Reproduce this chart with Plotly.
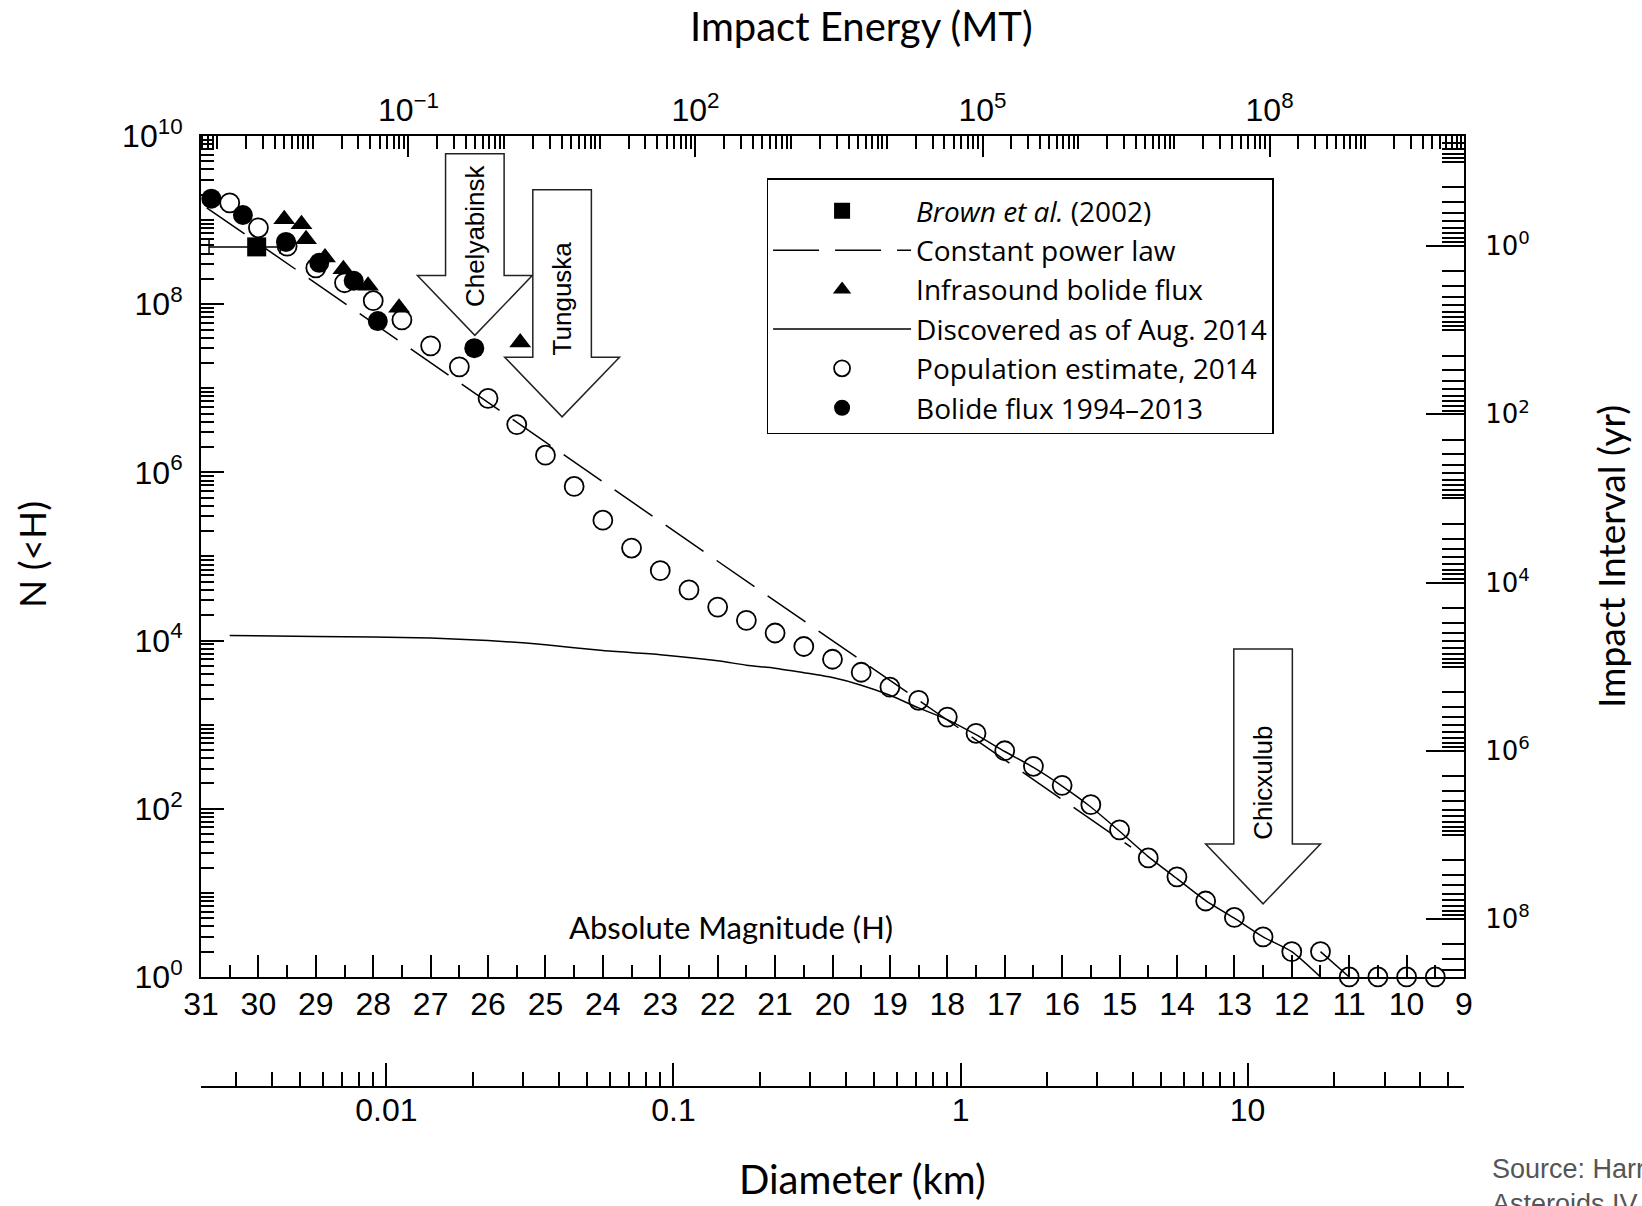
import plotly.graph_objects as go

# ---------------- data ----------------
# Population estimate, 2014 (open circles): absolute magnitude H and cumulative N(<H)
pop_H = [30.5, 30.0, 29.5, 29.0, 28.5, 28.0, 27.5, 27.0, 26.5, 26.0,
         25.5, 25.0, 24.5, 24.0, 23.5, 23.0, 22.5, 22.0, 21.5, 21.0,
         20.5, 20.0, 19.5, 19.0, 18.5, 18.0, 17.5, 17.0, 16.5, 16.0,
         15.5, 15.0, 14.5, 14.0, 13.5, 13.0, 12.5, 12.0, 11.5, 11.0,
         10.5, 10.0, 9.5]
pop_N = [1.6e9, 8.1e8, 4.9e8, 2.7e8, 1.8e8, 1.1e8, 6.5e7, 3.2e7, 1.8e7, 7.6e6,
         3.7e6, 1.6e6, 6.8e5, 2.7e5, 1.26e5, 6.8e4, 4.0e4, 2.5e4, 1.74e4, 1.23e4,
         8.5e3, 6.0e3, 4.2e3, 2.8e3, 1.95e3, 1.23e3, 7.9e2, 4.9e2, 3.2e2, 1.9e2,
         112, 56, 26, 15.5, 8.0, 5.1, 3.0, 2.0, 2.0, 1.0,
         1.0, 1.0, 1.0]

# Bolide flux 1994-2013 (filled circles)
bolide_H = [30.82, 30.27, 29.52, 28.94, 28.34, 27.92, 26.24]
bolide_N = [1.8e9, 1.15e9, 5.5e8, 3.1e8, 1.9e8, 6.3e7, 3.0e7]

# Infrasound bolide flux (triangles)
infra_H = [29.55, 29.25, 29.17, 28.84, 28.52, 28.09, 27.55, 25.44]
infra_N = [1.02e9, 8.9e8, 5.9e8, 3.6e8, 2.6e8, 1.66e8, 9.1e7, 3.5e7]

# Brown et al. (2002) (square with horizontal error bar)
brown_H = [30.03]
brown_N = [4.8e8]
brown_err_plus = [0.83]   # towards larger H
brown_err_minus = [0.41]

# Constant power law (dashed line) end points
plaw_H = [30.9, 14.8]
plaw_N = [1.4e9, 35]

# Discovered as of Aug. 2014 (solid line)
disc_H = [30.5, 29.0, 28.0, 27.0, 26.0, 25.0, 24.0, 23.0, 22.0, 21.5,
          21.0, 20.5, 20.0, 19.5, 19.0, 18.5, 18.0, 17.5, 17.0, 16.5,
          16.0, 15.5, 15.0, 14.5, 14.0, 13.5, 13.0, 12.5, 12.0, 11.5,
          None, 11.5, 11.0]
disc_N = [11500, 11200, 11000, 10700, 10000, 8900, 7600, 6800, 5750, 5100,
          4700, 4150, 3630, 2950, 2240, 1585, 1150, 760, 480, 310,
          186, 105, 54, 27, 14.8, 8.1, 5.0, 3.0, 2.0, 1.0,
          None, 2.0, 1.0]

# Labelled impacts (block arrows): H at the arrow tip, log10 N at tip / top of arrow / label centre
events = ["Chelyabinsk", "Tunguska", "Chicxulub"]
event_H = [26.23, 24.71, 12.50]
event_tip_logN = [7.63, 6.66, 0.87]
event_top_logN = [9.79, 9.36, 3.90]
event_label_logN = [8.82, 8.07, 2.31]

# Axis ticks
H_ticks = list(range(31, 8, -1))
N_tick_exps = [0, 2, 4, 6, 8, 10]
E_tick_exps = [-1, 2, 5, 8]
T_tick_exps = [0, 2, 4, 6, 8]
D_ticks = [0.01, 0.1, 1, 10]
D_tick_text = ["0.01", "0.1", "1", "10"]

# Axis ranges (log10 units for log axes)
H_range = [31, 9]
logN_range = [0, 10]
logE_range = [-3.168, 10.032]
logT_range = [8.69, -1.31]
logD_range = [-2.646, 1.754]

# ---------------- helpers ----------------
def minor_log(lo, hi, skip_exps=()):
    vals = []
    for e in range(int(lo) - 1, int(hi) + 2):
        for m in range(1, 10):
            if m == 1 and e not in skip_exps:
                vals.append(10.0 ** e)
            elif m > 1:
                vals.append(m * 10.0 ** e)
    return [v for v in vals if 10 ** lo <= v <= 10 ** hi]

def sup(e):
    return "10<sup>%s</sup>" % ("\u2212" + str(-e) if e < 0 else str(e))

TICKFONT = dict(family="Liberation Sans, Arial", size=32, color="black")
TITLE_FAMILY = "Lato, Open Sans, sans-serif"

fig = go.Figure()

# lines
fig.add_trace(go.Scatter(x=plaw_H, y=plaw_N, mode="lines", name="Constant power law",
                         line=dict(color="black", width=1.5, dash="46px,16px"),
                         legendrank=2, hoverinfo="skip"))
fig.add_trace(go.Scatter(x=disc_H, y=disc_N, mode="lines", name="Discovered as of Aug. 2014",
                         line=dict(color="black", width=1.5, shape="spline", smoothing=0.6),
                         connectgaps=False, legendrank=4, hoverinfo="skip"))
# markers
fig.add_trace(go.Scatter(x=pop_H, y=pop_N, mode="markers", name="Population estimate, 2014",
                         marker=dict(symbol="circle-open", size=19, color="black",
                                     line=dict(width=1.8, color="black")),
                         cliponaxis=False, legendrank=5))
fig.add_trace(go.Scatter(x=brown_H, y=brown_N, mode="markers", name="<i>Brown et al.</i> (2002)",
                         marker=dict(symbol="square", size=19, color="black"),
                         error_x=dict(type="data", symmetric=False, array=brown_err_plus,
                                      arrayminus=brown_err_minus, color="black",
                                      thickness=1.5, width=7),
                         legendrank=1))
fig.add_trace(go.Scatter(x=infra_H, y=infra_N, mode="markers", name="Infrasound bolide flux",
                         marker=dict(symbol="triangle-up", size=19, color="black"),
                         legendrank=3))
fig.add_trace(go.Scatter(x=bolide_H, y=bolide_N, mode="markers", name="Bolide flux 1994\u20132013",
                         marker=dict(symbol="circle", size=20, color="black"),
                         legendrank=6))

# empty traces that activate the extra axes
fig.add_trace(go.Scatter(x=[None], y=[None], xaxis="x2", yaxis="y", showlegend=False, hoverinfo="skip"))
fig.add_trace(go.Scatter(x=[None], y=[None], xaxis="x", yaxis="y2", showlegend=False, hoverinfo="skip"))
fig.add_trace(go.Scatter(x=[None], y=[None], xaxis="x3", yaxis="y", showlegend=False, hoverinfo="skip"))

# block arrows
shapes = []
annotations = []
for name, h, tip, top, lab in zip(events, event_H, event_tip_logN, event_top_logN, event_label_logN):
    hw_shaft, hw_head, head_h = 0.51, 1.0, 0.71
    xs = [h + hw_shaft, h + hw_shaft, h + hw_head, h, h - hw_head, h - hw_shaft, h - hw_shaft]
    ys = [top, tip + head_h, tip + head_h, tip, tip + head_h, tip + head_h, top]
    path = "M " + " L ".join("%g,%g" % (x, y / 10.0) for x, y in zip(xs, ys)) + " Z"
    shapes.append(dict(type="path", path=path, xref="x", yref="y domain",
                       fillcolor="white", line=dict(color="#222", width=1.5), layer="above"))
    annotations.append(dict(text=name, x=h, y=lab / 10.0, xref="x", yref="y domain",
                            xanchor="center", yanchor="middle",
                            textangle=-90, showarrow=False,
                            font=dict(family="Liberation Sans, Arial", size=26, color="black")))

# axis titles and notes
def title_ann(text, x, y, size, angle=0):
    return dict(text=text, x=x, y=y, xref="paper", yref="paper", xanchor="center",
                yanchor="middle", textangle=angle, showarrow=False,
                font=dict(family=TITLE_FAMILY, size=size, color="black"))

annotations += [
    title_ann("Impact Energy (MT)", 0.5226, 1.1157, 40),
    title_ann("Diameter (km)", 0.5234, -0.0965, 40),
    title_ann("N (&lt;H)", -0.1346, 0.5594, 37, -90),
    title_ann("Impact Interval (yr)", 1.1156, 0.5573, 37, -90),
    title_ann("Absolute Magnitude (H)", 0.4196, 0.1682, 31),
    dict(text="Source: Harris et al. (2015),<br>Asteroids IV", x=1.0206, y=-0.068, xref="paper",
         yref="paper", xanchor="left", yanchor="top", align="left", showarrow=False,
         font=dict(family="Liberation Sans, Arial", size=27, color="#555")),
]

AX = dict(showline=True, linecolor="black", linewidth=2, showgrid=False, zeroline=False,
          ticks="inside", tickcolor="black", tickwidth=1.5, mirror=False)

ydom = [0.1157, 1.0]
fig.update_layout(
    width=1642, height=1206,
    margin=dict(l=201, r=178, t=136, b=119),
    paper_bgcolor="white", plot_bgcolor="white",
    showlegend=True,
    xaxis=dict(**AX, tickfont=TICKFONT, range=H_range, tickmode="array", tickvals=H_ticks,
               ticklen=22, ticklabelstandoff=-2,
               minor=dict(tickmode="array", tickvals=[t + 0.5 for t in H_ticks[1:]],
                          ticks="inside", ticklen=12, tickwidth=1.5, tickcolor="black"),
               anchor="y", side="bottom"),
    yaxis=dict(**AX, tickfont=TICKFONT, type="log", range=logN_range, domain=ydom, tickmode="array",
               tickvals=[10.0 ** e for e in N_tick_exps], ticktext=[sup(e) for e in N_tick_exps],
               ticklen=23, ticklabelstandoff=10,
               minor=dict(tickmode="array", tickvals=minor_log(0, 10, N_tick_exps),
                          ticks="inside", ticklen=13, tickwidth=1.5, tickcolor="black"),
               anchor="x", side="left"),
    xaxis2=dict(**AX, tickfont=TICKFONT, type="log", range=logE_range, overlaying="x", side="top",
                anchor="y", tickmode="array", tickvals=[10.0 ** e for e in E_tick_exps],
                ticktext=[sup(e) for e in E_tick_exps], ticklen=21, ticklabelstandoff=0,
                minor=dict(tickmode="array", tickvals=minor_log(-3.168, 10.032, E_tick_exps),
                           ticks="inside", ticklen=13, tickwidth=1.5, tickcolor="black")),
    yaxis2=dict(**AX, type="log", range=logT_range, overlaying="y", side="right", anchor="x",
                tickmode="array", tickvals=[10.0 ** e for e in T_tick_exps],
                ticktext=[sup(e) for e in T_tick_exps], ticklen=38, ticklabelstandoff=14,
                tickfont=dict(family="DejaVu Sans", size=26, color="black"),
                minor=dict(tickmode="array", tickvals=minor_log(-1.31, 8.69, T_tick_exps),
                           ticks="inside", ticklen=22, tickwidth=1.5, tickcolor="black")),
    xaxis3=dict(**AX, tickfont=TICKFONT, type="log", range=logD_range, overlaying="x",
                anchor="free", position=0, side="bottom", tickmode="array", tickvals=D_ticks,
                ticktext=D_tick_text, ticklen=23, ticklabelstandoff=-5,
                minor=dict(tickmode="array", tickvals=minor_log(-2.646, 1.754, [-2, -1, 0, 1]),
                           ticks="inside", ticklen=14, tickwidth=1.5, tickcolor="black")),
    legend=dict(x=0.4478, y=0.9558, xanchor="left", yanchor="top", bgcolor="white",
                bordercolor="black", borderwidth=1.5, itemwidth=138,
                traceorder="normal",
                title=dict(text=" ", font=dict(size=5)),
                font=dict(family="Open Sans, Lato, sans-serif", size=28, color="black")),
    shapes=shapes,
    annotations=annotations,
)

fig.write_html("out.html")
